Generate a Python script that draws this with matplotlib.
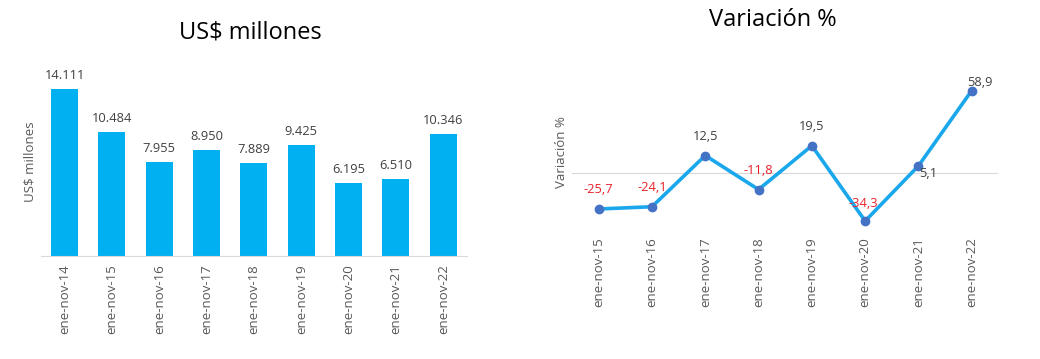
import matplotlib
matplotlib.use("Agg")
import matplotlib.pyplot as plt

plt.rcParams['font.family'] = ['Open Sans', 'DejaVu Sans']

categories = ["ene-nov-14", "ene-nov-15", "ene-nov-16", "ene-nov-17", "ene-nov-18",
              "ene-nov-19", "ene-nov-20", "ene-nov-21", "ene-nov-22"]
values_musd = [14111, 10484, 7955, 8950, 7889, 9425, 6195, 6510, 10346]
var_categories = categories[1:]
variation_pct = [-25.7, -24.1, 12.5, -11.8, 19.5, -34.3, 5.1, 58.9]

BAR_COLOR = "#00B0F0"
LINE_COLOR = "#1AA7EC"
MARKER_COLOR = "#4472C4"
TEXT_COLOR = "#404040"
TICK_COLOR = "#595959"
NEG_COLOR = "#E8212B"
GRID_COLOR = "#D9D9D9"

fig = plt.figure(figsize=(10.4, 3.59), dpi=100)

def fmt_thousands(v):
    return f"{v:,}".replace(",", ".")

def fmt_dec(v):
    return f"{v:.1f}".replace(".", ",")

# Left: bars
ax1 = fig.add_axes([0.0394, 1 - 256 / 359, 0.449 - 0.0394, (256 - 67) / 359])
x = range(len(categories))
ax1.bar(x, values_musd, width=0.57, color=BAR_COLOR)
ax1.set_ylim(0, 16000)
ax1.set_xlim(-0.5, len(categories) - 0.5)
for xi, v in zip(x, values_musd):
    ax1.annotate(fmt_thousands(v), (xi, v), xytext=(0, 5), textcoords="offset points",
                 ha="center", va="bottom", fontsize=9.3, color=TEXT_COLOR)
ax1.set_xticks(list(x))
ax1.set_xticklabels(categories, rotation=90, fontsize=9.5, color=TICK_COLOR)
ax1.tick_params(axis="x", length=0, pad=6)
ax1.set_yticks([])
for s in ["top", "right", "left"]:
    ax1.spines[s].set_visible(False)
ax1.spines["bottom"].set_color(GRID_COLOR)
ax1.set_ylabel("US$ millones", fontsize=9.5, color=TICK_COLOR, labelpad=3)
fig.text(250 / 1040, 1 - 32 / 359, "US$ millones", ha="center", va="center",
         fontsize=17, color="#000000")

# Right: line
ax2 = fig.add_axes([0.55, 1 - 229 / 359, 0.96 - 0.55, (229 - 75) / 359])
x2 = list(range(len(var_categories)))
ax2.axhline(0, color=GRID_COLOR, linewidth=0.8, zorder=1)
ax2.plot(x2, variation_pct, color=LINE_COLOR, linewidth=2.6, zorder=2,
         marker="o", markersize=6, markerfacecolor=MARKER_COLOR,
         markeredgecolor=MARKER_COLOR)
ax2.set_ylim(-40, 70)
ax2.set_xlim(-0.5, len(var_categories) - 0.5)
label_offsets = [(0, 9), (0, 9), (0, 9), (0, 9), (0, 9), (-1, 8), (7, -1), (6, 1)]
label_va = ["bottom"] * 6 + ["top", "bottom"]
for xi, v, off, va in zip(x2, variation_pct, label_offsets, label_va):
    ax2.annotate(fmt_dec(v), (xi, v), xytext=off, textcoords="offset points",
                 ha="center", va=va, fontsize=9.3, zorder=3,
                 color=NEG_COLOR if v < 0 else TEXT_COLOR)
ax2.set_xticks(x2)
ax2.set_xticklabels(var_categories, rotation=90, fontsize=9.5, color=TICK_COLOR)
ax2.tick_params(axis="x", length=0, pad=6)
ax2.set_yticks([])
for s in ax2.spines.values():
    s.set_visible(False)
ax2.set_ylabel("Variación %", fontsize=9.5, color=TICK_COLOR, labelpad=3)
fig.text(773 / 1040, 1 - 20 / 359, "Variación %", ha="center", va="center",
         fontsize=17, color="#000000")

fig.savefig("out.png", dpi=100)
